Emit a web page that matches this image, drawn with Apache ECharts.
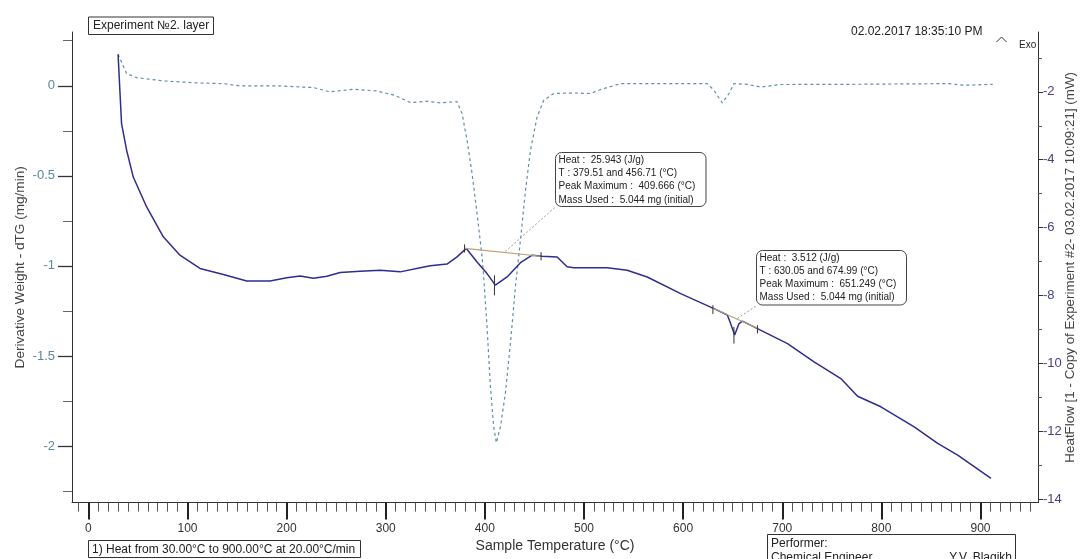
<!DOCTYPE html>
<html><head><meta charset="utf-8">
<script src="https://cdn.jsdelivr.net/npm/echarts@6/dist/echarts.min.js"></script>
<style>html,body{margin:0;padding:0;background:#fff}#c{width:1083px;height:559px}</style>
</head><body><div id="c"></div>
<script>
// ---- data ----
const tempDTG = [30, 38.6, 48.7, 75.6, 109.3, 136.2, 153, 193.4, 227.1, 243.9, 267.5, 291.1, 309, 324.7, 341.6, 355, 371.9, 377, 382, 387.1, 392.1, 397.2, 398.8, 402.2, 405.6, 408.9, 411.6, 415.7, 420.7, 425.8, 430.8, 435.9, 441, 446, 452.7, 459.4, 469.5, 489.7, 506.6, 516.7, 536.9, 624.4, 631.1, 639.6, 646.3, 651.3, 664.8, 678.3, 698.5, 765.9, 866.9, 883.6, 912.3];
const dtgValues = [0.175, 0.068, 0.045, 0.027, 0.016, 0.012, -0.001, -0.001, -0.010, -0.034, -0.019, -0.029, -0.053, -0.093, -0.086, -0.095, -0.088, -0.154, -0.302, -0.487, -0.709, -0.950, -1.061, -1.338, -1.671, -1.893, -1.982, -1.893, -1.708, -1.430, -1.116, -0.857, -0.580, -0.358, -0.173, -0.080, -0.043, -0.040, -0.043, -0.021, 0.012, 0.012, -0.025, -0.095, -0.043, 0.012, 0.008, -0.007, 0.007, 0.008, 0.012, 0.003, 0.008];
const tempHF = [30, 31.8, 33.5, 38.6, 45.3, 58.8, 75.6, 92.4, 112.6, 136.2, 159.8, 183.3, 200.2, 213.6, 227.1, 240.6, 254, 274.2, 294.4, 314.6, 334.8, 344.9, 361.8, 371.9, 381.3, 392.1, 402.2, 410.6, 422.4, 435.9, 447.7, 457.8, 472.9, 483, 489.7, 523.4, 543.6, 563.8, 597.5, 631.1, 644.6, 647.9, 652, 656.4, 659.8, 675, 705.3, 732.1, 759.1, 776, 799.5, 833.1, 856.8, 877, 910.6];
const hfValues = [-0.90, -1.96, -2.94, -3.72, -4.51, -5.39, -6.27, -6.81, -7.20, -7.38, -7.57, -7.57, -7.47, -7.42, -7.49, -7.43, -7.32, -7.28, -7.25, -7.30, -7.18, -7.12, -7.07, -6.86, -6.61, -7.01, -7.35, -7.69, -7.45, -7.03, -6.81, -6.84, -6.86, -7.15, -7.18, -7.18, -7.25, -7.45, -7.94, -8.38, -8.57, -8.82, -9.16, -8.82, -8.75, -8.97, -9.41, -9.95, -10.44, -10.96, -11.27, -11.86, -12.35, -12.69, -13.38];

// peak integration annotations (temperature, heat flow)
const peak1Limits = [379.51, 456.71];
const peak1BaseHF = [-6.61, -6.84];
const peak2Limits = [630.05, 674.99];
const peak2BaseHF = [-8.37, -8.96];
// tick segments [temp, hfFrom, hfTo]
const peakTicks = [
  [379.51, -6.49, -6.73], [456.71, -6.72, -6.96], [409.666, -7.40, -7.99],
  [630.05, -8.28, -8.54], [674.99, -8.87, -9.11], [651.249, -8.92, -9.41]
];
// leader lines [tempFrom, hfFrom, tempTo, hfTo]
const leaders = [[420.7, -6.70, 471.2, -5.39], [654.7, -8.67, 675.0, -8.28]];
const peak1Text = ['Heat :  25.943 (J/g)', 'T : 379.51 and 456.71 (°C)', 'Peak Maximum :  409.666 (°C)', 'Mass Used :  5.044 mg (initial)'];
const peak2Text = ['Heat :  3.512 (J/g)', 'T : 630.05 and 674.99 (°C)', 'Peak Maximum :  651.249 (°C)', 'Mass Used :  5.044 mg (initial)'];

// ---- axes ----
const xMajorTicks = [0, 100, 200, 300, 400, 500, 600, 700, 800, 900];
const xMinorTicks = [];
for (let t = -10; t <= 950; t += 10) if (t % 100 !== 0) xMinorTicks.push(t);
const leftLabelTicks = [-2, -1.5, -1, -0.5, 0];
const leftMinorTicks = [-2.25, -1.75, -1.25, -0.75, -0.25, 0.25];
const rightLabelTicks = [-14, -12, -10, -8, -6, -4, -2];
const rightMinorTicks = [-13, -11, -9, -7, -5, -3, -1];

const X_MIN = -16.5, X_MAX = 958;
const L_MIN = -2.314, L_MAX = 0.2985;
const R_MIN = -14.09, R_MAX = -0.241;

const FONT = '"Liberation Sans", Arial, sans-serif';
const zip = (a, b) => a.map((v, i) => [v, b[i]]);

function seg(points, color, width, type, z) {
  return { type: 'line', xAxisIndex: 0, yAxisIndex: 2, data: points, showSymbol: false, symbol: 'none',
    silent: true, z: z || 3, lineStyle: { color: color, width: width, type: type || 'solid' } };
}

const series = [
  { type: 'line', name: 'dTG', xAxisIndex: 0, yAxisIndex: 0, data: zip(tempDTG, dtgValues), showSymbol: false, symbol: 'none',
    lineStyle: { color: '#5e90a0', width: 1.2, type: [3, 3] }, z: 2 },
  { type: 'line', name: 'HeatFlow', xAxisIndex: 0, yAxisIndex: 2, data: zip(tempHF, hfValues), showSymbol: false, symbol: 'none',
    lineStyle: { color: '#2e2e8e', width: 1.5 }, z: 2 },
  seg([[peak1Limits[0], peak1BaseHF[0]], [peak1Limits[1], peak1BaseHF[1]]], '#b3a46e', 1.2),
  seg([[peak2Limits[0], peak2BaseHF[0]], [peak2Limits[1], peak2BaseHF[1]]], '#b3a46e', 1.2)
];
peakTicks.forEach(t => series.push(seg([[t[0], t[1]], [t[0], t[2]]], '#333', 1)));
leaders.forEach(l => series.push(seg([[l[0], l[1]], [l[2], l[3]]], '#9a9a9a', 1, [2, 2])));

function txt(x, y, s, size, opts) {
  return { type: 'text', z: 100, x: x, y: y,
    style: Object.assign({ text: s, font: size + 'px ' + FONT, fill: '#222', verticalAlign: 'middle', align: 'left' }, opts || {}) };
}
const graphics = [
  { type: 'rect', z: 99, shape: { x: 88.5, y: 17, width: 125, height: 17.5 }, style: { fill: '#fff', stroke: '#333', lineWidth: 1 } },
  txt(93, 26, 'Experiment №2. layer', 12),
  txt(851, 32, '02.02.2017 18:35:10 PM', 12),
  { type: 'polyline', z: 100, shape: { points: [[996.5, 42], [1001.5, 37], [1006.5, 42]] }, style: { stroke: '#333', fill: null, lineWidth: 1 } },
  txt(1019, 45, 'Exo', 10),
  { type: 'rect', z: 99, shape: { x: 88.5, y: 540.5, width: 272, height: 17 }, style: { fill: '#fff', stroke: '#333', lineWidth: 1 } },
  txt(92, 549.5, '1) Heat from 30.00°C to 900.00°C at 20.00°C/min', 12),
  { type: 'rect', z: 99, shape: { x: 767.5, y: 534.5, width: 248, height: 30 }, style: { fill: '#fff', stroke: '#333', lineWidth: 1 } },
  txt(771, 543.5, 'Performer:', 12),
  txt(771, 557.5, 'Chemical Engineer', 12),
  txt(1012, 557.5, 'Y.V. Blagikh', 12, { align: 'right' }),
  { type: 'rect', z: 99, shape: { x: 555.5, y: 152.5, width: 150.5, height: 54, r: 6 }, style: { fill: '#fff', stroke: '#444', lineWidth: 1 } },
  { type: 'rect', z: 99, shape: { x: 756.5, y: 250.5, width: 150, height: 54.5, r: 6 }, style: { fill: '#fff', stroke: '#444', lineWidth: 1 } }
];
peak1Text.forEach((s, i) => graphics.push(txt(558.5, 160 + i * 13.3, s, 10)));
peak2Text.forEach((s, i) => graphics.push(txt(759.5, 258.5 + i * 13, s, 10)));

const hide = { show: false };
const option = {
  animation: false,
  backgroundColor: '#fff',
  grid: { left: 72, right: 45, top: 32, bottom: 56.4, containLabel: false, outerBoundsMode: 'none' },
  xAxis: [
    { type: 'value', gridIndex: 0, position: 'bottom', min: X_MIN, max: X_MAX,
      axisLine: { onZero: false, lineStyle: { color: '#333', width: 1 } },
      axisTick: { customValues: xMajorTicks, length: 17, lineStyle: { color: '#222', width: 2 } },
      axisLabel: { customValues: xMajorTicks, margin: 20, color: '#333', fontSize: 12, fontFamily: FONT },
      splitLine: hide,
      name: 'Sample Temperature (°C)', nameLocation: 'middle', nameGap: 37, nameMoveOverlap: false,
      nameTextStyle: { color: '#333', fontSize: 14, fontFamily: FONT } },
    { type: 'value', gridIndex: 0, position: 'bottom', min: X_MIN, max: X_MAX,
      axisLine: { show: false, onZero: false },
      axisTick: { customValues: xMinorTicks, length: 9, lineStyle: { color: '#555', width: 1 } },
      axisLabel: hide, splitLine: hide }
  ],
  yAxis: [
    { type: 'value', gridIndex: 0, position: 'left', min: L_MIN, max: L_MAX,
      axisLine: { show: true, onZero: false, lineStyle: { color: '#333', width: 1 } },
      axisTick: { customValues: leftLabelTicks, length: 14, lineStyle: { color: '#333', width: 1.3 } },
      axisLabel: { customValues: leftLabelTicks, margin: 17, color: '#5b8a95', fontSize: 13, fontFamily: FONT },
      splitLine: hide,
      name: 'Derivative Weight - dTG (mg/min)', nameLocation: 'middle', nameGap: 45, nameMoveOverlap: false,
      nameTextStyle: { color: '#444', fontSize: 13.6, fontFamily: FONT } },
    { type: 'value', gridIndex: 0, position: 'left', min: L_MIN, max: L_MAX,
      axisLine: { show: false, onZero: false },
      axisTick: { customValues: leftMinorTicks, length: 9, lineStyle: { color: '#666', width: 1 } },
      axisLabel: hide, splitLine: hide },
    { type: 'value', gridIndex: 0, position: 'right', min: R_MIN, max: R_MAX,
      axisLine: { show: true, onZero: false, lineStyle: { color: '#333', width: 1 } },
      axisTick: { customValues: rightLabelTicks, length: 5, lineStyle: { color: '#333', width: 1 } },
      axisLabel: { customValues: rightLabelTicks, margin: 5, color: '#43437e', fontSize: 13, fontFamily: FONT },
      splitLine: hide,
      name: 'HeatFlow [1 - Copy of Experiment #2- 03.02.2017 10:09:21] (mW)', nameLocation: 'middle', nameGap: 26, nameMoveOverlap: false,
      nameTextStyle: { color: '#444', fontSize: 13.4, fontFamily: FONT } },
    { type: 'value', gridIndex: 0, position: 'right', min: R_MIN, max: R_MAX,
      axisLine: { show: false, onZero: false },
      axisTick: { customValues: rightMinorTicks, length: 4, lineStyle: { color: '#555', width: 1 } },
      axisLabel: hide, splitLine: hide }
  ],
  series: series,
  graphic: graphics
};
const chart = echarts.init(document.getElementById('c'), null, { renderer: 'canvas' });
chart.setOption(option);
</script>
</body></html>
